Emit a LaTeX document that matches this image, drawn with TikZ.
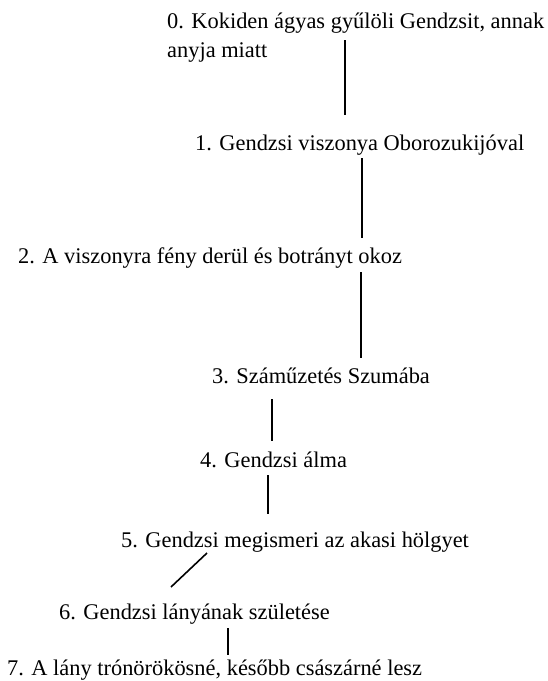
\documentclass[tikz,border=0pt]{standalone}
\usepackage{fontspec}
\setmainfont{Liberation Serif}
\usepackage{tikz}

\begin{document}
\begin{tikzpicture}[x=1pt, y=-1pt,
    event/.style={inner sep=0pt, anchor=base west, font=\fontsize{22.4}{29}\selectfont},
    link/.style={line width=1.6pt}]
    % --- CANVAS ---
    \useasboundingbox (0,0) rectangle (547,681);

    % --- EVENTS (top to bottom) ---
    \node[event, align=left] (n0) at (167,57) {0. Kokiden ágyas gyűlöli Gendzsit, annak\\anyja miatt};
    \node[event] (n1) at (195,150) {1. Gendzsi viszonya Oborozukijóval};
    \node[event] (n2) at (18,263) {2. A viszonyra fény derül és botrányt okoz};
    \node[event] (n3) at (212,383) {3. Száműzetés Szumába};
    \node[event] (n4) at (200,467) {4. Gendzsi álma};
    \node[event] (n5) at (121,547) {5. Gendzsi megismeri az akasi hölgyet};
    \node[event] (n6) at (59,619) {6. Gendzsi lányának születése};
    \node[event] (n7) at (7,675) {7. A lány trónörökösné, később császárné lesz};

    % --- LINKS ---
    \draw[link] ([shift={(178,-17)}]n0.base west) -- ([shift={(150,-35)}]n1.base west);
    \draw[link] ([shift={(167,8)}]n1.base west) -- ([shift={(344,-25)}]n2.base west);
    \draw[link] ([shift={(343,9)}]n2.base west) -- ([shift={(149,-25)}]n3.base west);
    \draw[link] ([shift={(60,16)}]n3.base west) -- ([shift={(72,-26)}]n4.base west);
    \draw[link] ([shift={(68,8)}]n4.base west) -- ([shift={(147,-33)}]n5.base west);
    \draw[link] ([shift={(86,6)}]n5.base west) -- ([shift={(112,-32)}]n6.base west);
    \draw[link] ([shift={(169,9)}]n6.base west) -- ([shift={(221,-20)}]n7.base west);
\end{tikzpicture}
\end{document}
